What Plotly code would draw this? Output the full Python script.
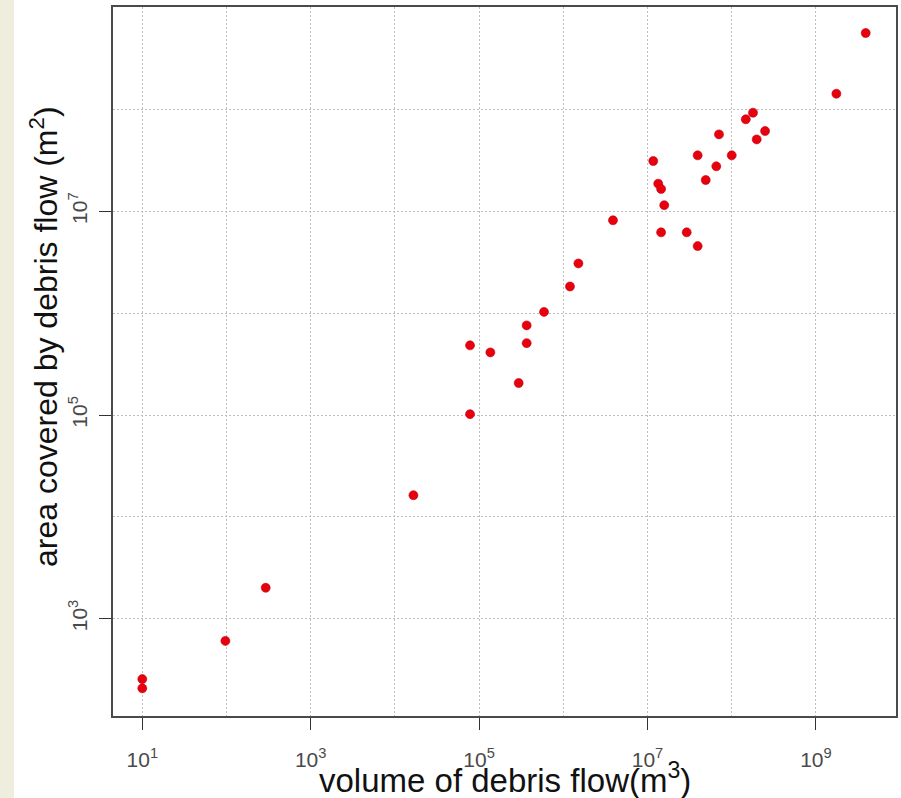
import plotly.graph_objects as go

# Debris-flow volume (m^3) and area covered (m^2)
volume = [10, 10, 97, 292, 1.66e4, 7.8e4, 7.8e4, 1.36e5, 2.95e5, 3.67e5, 3.67e5,
          5.9e5, 1.2e6, 1.51e6, 3.89e6, 1.17e7, 1.34e7, 1.45e7, 1.58e7, 1.45e7,
          2.92e7, 3.94e7, 3.94e7, 4.91e7, 6.56e7, 7.06e7, 1.0e8, 1.47e8, 1.79e8,
          1.98e8, 2.49e8, 1.75e9, 3.9e9]
area = [255, 207, 605, 2010, 1.63e4, 1.02e5, 4.83e5, 4.12e5, 2.06e5, 7.59e5, 5.08e5,
        1.03e6, 1.83e6, 3.08e6, 8.17e6, 3.12e7, 1.87e7, 1.66e7, 1.15e7, 6.22e6,
        6.22e6, 4.56e6, 3.55e7, 2.03e7, 2.77e7, 5.70e7, 3.55e7, 8.02e7, 9.31e7,
        5.09e7, 6.15e7, 1.43e8, 5.64e8]

x_tickvals = [1e1, 1e3, 1e5, 1e7, 1e9]
x_ticktext = ["10<sup>1</sup>", "10<sup>3</sup>", "10<sup>5</sup>", "10<sup>7</sup>", "10<sup>9</sup>"]
x_minor_grid = [1e2, 1e4, 1e6, 1e8]
y_tickvals = [1e3, 1e5, 1e7]
y_ticktext = ["10<sup>3</sup>", "10<sup>5</sup>", "10<sup>7</sup>"]
y_minor_grid = [1e4, 1e6, 1e8]

x_title = "volume of debris flow(m<sup>3</sup>)"
y_title = "area covered by debris flow (m<sup>2</sup>)"

x_range_log = [0.652, 9.951]
y_range_log = [2.044, 9.007]

W, H = 901, 798
ML, MR, MT, MB = 113, 5, 7, 82
PW, PH = W - ML - MR, H - MT - MB

FONT = "Liberation Sans, Arial, sans-serif"

fig = go.Figure()
fig.add_trace(go.Scatter(
    x=volume, y=area, mode="markers",
    marker=dict(size=9, color="#E8000C", line=dict(width=0.6, color="#C00010")),
    showlegend=False, hoverinfo="x+y",
))

grid = dict(gridcolor="#BDBDBD", gridwidth=1, griddash="2px,2px")
axis_common = dict(
    type="log", showline=True, mirror=True, linecolor="#4A4A4A", linewidth=1.5,
    ticks="outside", ticklen=12, tickwidth=1.2, tickcolor="#333333",
    tickfont=dict(family=FONT, size=21, color="#4A4A4A"),
    showgrid=True, zeroline=False, tickmode="array", automargin=False, **grid,
)

fig.update_xaxes(
    range=x_range_log, tickvals=x_tickvals, ticktext=x_ticktext,
    minor=dict(tickvals=x_minor_grid, showgrid=True, ticks="", **grid),
    ticklabelstandoff=12,
    **axis_common,
)
fig.update_yaxes(
    range=y_range_log, tickvals=y_tickvals, ticktext=y_ticktext, tickangle=-90,
    minor=dict(tickvals=y_minor_grid, showgrid=True, ticks="", **grid),
    ticklabelstandoff=4,
    **axis_common,
)

# axis titles placed as annotations (pixel offsets converted to paper units)
fig.add_annotation(text=x_title, xref="paper", yref="paper",
                   x=0.5, y=-(778 - (MT + PH)) / PH, xanchor="center", yanchor="middle",
                   showarrow=False, font=dict(family=FONT, size=33, color="#111111"))
fig.add_annotation(text=y_title, xref="paper", yref="paper",
                   x=-(ML - 44) / PW, y=1 - (337 - MT) / PH, xanchor="center", yanchor="middle",
                   textangle=-90, showarrow=False, font=dict(family=FONT, size=32, color="#111111"))

# beige strip at the left edge of the page
fig.add_shape(type="rect", xref="paper", yref="paper",
              x0=-ML / PW, x1=(14 - ML) / PW, y0=-MB / PH, y1=1 + MT / PH,
              fillcolor="#EFEDDE", line=dict(width=0), layer="below")

fig.update_layout(
    width=W, height=H, autosize=False,
    margin=dict(l=ML, r=MR, t=MT, b=MB),
    paper_bgcolor="white", plot_bgcolor="white",
    font=dict(family=FONT),
)

fig.write_html("out.html", config={"displayModeBar": False},
               post_script="document.body.style.margin='0';document.body.style.overflow='hidden';")
